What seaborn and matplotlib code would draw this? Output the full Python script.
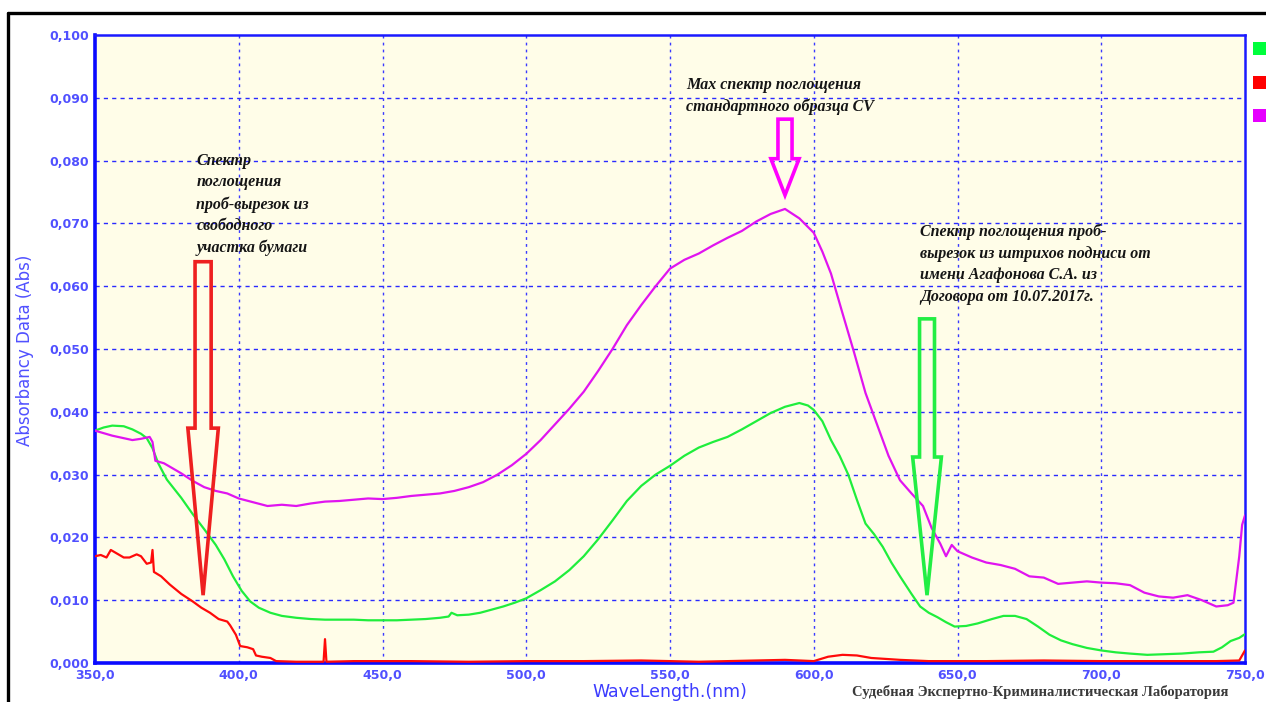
import numpy as np
import pandas as pd
import matplotlib
matplotlib.use("Agg")
import matplotlib.pyplot as plt
import seaborn as sns
from matplotlib.patches import Polygon, Rectangle
from matplotlib.lines import Line2D
from matplotlib.ticker import FuncFormatter

# ---------------- data ----------------
wl_magenta = [350, 353, 356, 360, 363, 366, 369, 370, 371, 374, 377, 380, 384, 388, 392, 396,
              400, 405, 410, 415, 420, 425, 430, 435, 440, 445, 450, 455, 460, 465, 470, 475,
              480, 485, 490, 495, 500, 505, 510, 515, 520, 525, 530, 535, 540, 545, 550, 555,
              560, 565, 570, 575, 580, 585, 590, 595, 600, 603, 606, 610, 614, 618, 622, 626,
              630, 634, 638, 641, 644, 646, 648, 650, 655, 660, 665, 670, 675, 680, 685, 690,
              695, 700, 705, 710, 715, 720, 725, 730, 735, 740, 744, 746, 748, 749, 750]
abs_magenta = [.0370, .0366, .0362, .0358, .0355, .0357, .0360, .0352, .0322, .0318, .0310, .0302,
               .0290, .0280, .0274, .0270, .0262, .0256, .0250, .0252, .0250, .0254, .0257, .0258,
               .0260, .0262, .0261, .0263, .0266, .0268, .0270, .0274, .0280, .0288, .0300, .0315,
               .0333, .0355, .0380, .0405, .0432, .0465, .0500, .0538, .0570, .0600, .0628, .0642,
               .0652, .0665, .0677, .0688, .0703, .0715, .0723, .0708, .0685, .0655, .0620, .0557,
               .0495, .0430, .0380, .0330, .0291, .0270, .0250, .0215, .0190, .0170, .0188, .0178,
               .0168, .0160, .0156, .0150, .0138, .0136, .0126, .0128, .0130, .0128, .0127, .0124,
               .0112, .0106, .0104, .0108, .0100, .0090, .0092, .0096, .0170, .0220, .0235]

wl_green = [350, 353, 356, 360, 363, 366, 368, 370, 372, 375, 380, 384, 388, 392, 395, 398, 401,
            404, 407, 411, 415, 420, 425, 430, 435, 440, 445, 450, 455, 460, 465, 470, 473, 474,
            476, 480, 484, 488, 492, 496, 500, 505, 510, 515, 520, 525, 530, 535, 540, 545, 550,
            555, 560, 565, 570, 575, 580, 585, 590, 595, 598, 600, 603, 606, 609, 612, 615, 618,
            621, 624, 627, 630, 634, 637, 640, 643, 646, 649, 653, 657, 662, 666, 670, 674, 678,
            682, 686, 690, 695, 700, 705, 710, 716, 722, 728, 734, 739, 742, 745, 748, 750]
abs_green = [.0370, .0375, .0378, .0377, .0372, .0365, .0358, .0342, .0318, .0292, .0263, .0237,
             .0213, .0188, .0165, .0138, .0115, .0098, .0088, .0080, .0075, .0072, .0070, .0069,
             .0069, .0069, .0068, .0068, .0068, .0069, .0070, .0072, .0074, .0080, .0076, .0077,
             .0080, .0085, .0090, .0096, .0103, .0116, .0130, .0148, .0170, .0197, .0227, .0258,
             .0282, .0300, .0314, .0330, .0343, .0352, .0360, .0372, .0385, .0398, .0408, .0414,
             .0410, .0403, .0385, .0355, .0330, .0300, .0260, .0222, .0205, .0185, .0160, .0138,
             .0110, .0090, .0080, .0073, .0065, .0058, .0059, .0063, .0070, .0075, .0075, .0070,
             .0058, .0045, .0036, .0030, .0024, .0020, .0017, .0015, .0013, .0014, .0015, .0017,
             .0018, .0025, .0035, .0040, .0046]

wl_red = [350, 352, 354, 355.5, 357, 360, 362, 364.5, 366, 368, 369.5, 370, 370.5, 373, 376, 380,
          384, 387, 390, 393, 396, 397, 399, 400.5, 403, 405, 406, 408, 411, 413, 420, 429.5, 430,
          430.5, 440, 460, 480, 500, 520, 540, 550, 560, 570, 580, 590, 600, 605, 610, 615, 620,
          630, 640, 660, 680, 700, 720, 740, 748, 750]
abs_red = [.0170, .0172, .0168, .0180, .0176, .0168, .0168, .0173, .0170, .0158, .0160, .0180,
           .0145, .0138, .0125, .0110, .0098, .0088, .0080, .0070, .0066, .0060, .0045, .0027,
           .0025, .0022, .0012, .0010, .0008, .0003, .0002, .0002, .0038, .0002, .0003, .0003,
           .0002, .0003, .0003, .0004, .0003, .0002, .0003, .0004, .0005, .0003, .0010, .0013,
           .0012, .0008, .0005, .0003, .0003, .0004, .0003, .0003, .0003, .0004, .0020]

series_names = ["green", "red", "magenta"]
series_colors = {"green": "#1fee3c", "red": "#ff0a0a", "magenta": "#e014f0"}
legend_colors = ["#00ff3c", "#ff0000", "#e600ff"]

x_ticks = [350, 400, 450, 500, 550, 600, 650, 700, 750]
y_ticks = [0.0, 0.01, 0.02, 0.03, 0.04, 0.05, 0.06, 0.07, 0.08, 0.09, 0.10]

label_red = "Спектр\nпоглощения\nпроб-вырезок из\nсвободного\nучастка бумаги"
label_magenta = "Max спектр поглощения\nстандартного образца CV"
label_green = "Спектр поглощения проб-\nвырезок из штрихов подниси от\nимени Агафонова С.А. из\nДоговора от 10.07.2017г."
footer = "Судебная Экспертно-Криминалистическая Лаборатория"
xlabel = "WaveLength.(nm)"
ylabel = "Absorbancy Data (Abs)"

df = pd.concat([
    pd.DataFrame({"wl": wl_green, "abs": abs_green, "s": "green"}),
    pd.DataFrame({"wl": wl_red, "abs": abs_red, "s": "red"}),
    pd.DataFrame({"wl": wl_magenta, "abs": abs_magenta, "s": "magenta"}),
], ignore_index=True)

# ---------------- figure ----------------
sns.set_style("white")
plt.rcParams["font.family"] = ["DejaVu Sans"]

fig = plt.figure(figsize=(12.66, 7.02), dpi=100)
ax = fig.add_axes([95 / 1266, 1 - 663 / 702, (1245 - 95) / 1266, (663 - 35) / 702])
ax.set_facecolor("#fffde8")

sns.lineplot(data=df, x="wl", y="abs", hue="s", palette=series_colors, hue_order=series_names,
             ax=ax, legend=False, linewidth=1.6, estimator=None, sort=False, zorder=3)

ax.set_xlim(350, 750)
ax.set_ylim(0, 0.1)
ax.set_xticks(x_ticks)
ax.set_yticks(y_ticks)
ax.xaxis.set_major_formatter(FuncFormatter(lambda v, p: f"{v:.1f}".replace(".", ",")))
ax.yaxis.set_major_formatter(FuncFormatter(lambda v, p: f"{v:.3f}".replace(".", ",")))
ax.tick_params(axis="both", length=0, pad=4, labelsize=9, labelcolor="#5050ff")
for lab in ax.get_xticklabels() + ax.get_yticklabels():
    lab.set_fontweight("bold")

ax.grid(False)
for v in x_ticks[1:-1]:
    ax.axvline(v, color="#3a3aff", lw=1.0, ls=(0, (2, 3)), zorder=1)
for v in y_ticks[1:-1]:
    ax.axhline(v, color="#2a2aff", lw=1.0, ls=(0, (3, 3)), zorder=1)

for side in ["left", "bottom"]:
    ax.spines[side].set_color("#0a0aff")
    ax.spines[side].set_linewidth(2.6)
for side in ["top", "right"]:
    ax.spines[side].set_color("#1a1aff")
    ax.spines[side].set_linewidth(1.8)

ax.set_xlabel(xlabel, fontsize=12.5, color="#3c3cff")
ax.set_ylabel(ylabel, fontsize=12, color="#5050ff")
ax.xaxis.label.set_va("center")
ax.yaxis.label.set_va("center")
ax.xaxis.set_label_coords((670 - 95) / 1150, -29 / 628)
ax.yaxis.set_label_coords(-70 / 1150, (663 - 350) / 628)

# ---------------- hollow arrows ----------------
def hollow_arrow(x_tip, y_tip, y_top, y_base, half_shaft, half_head, color):
    pts = [(x_tip - half_shaft, y_top), (x_tip + half_shaft, y_top), (x_tip + half_shaft, y_base),
           (x_tip + half_head, y_base), (x_tip, y_tip), (x_tip - half_head, y_base),
           (x_tip - half_shaft, y_base)]
    ax.add_patch(Polygon(pts, closed=True, fill=False, edgecolor=color, lw=2.6, zorder=4,
                         joinstyle="miter"))

hollow_arrow(387.6, 0.0108, 0.0639, 0.0374, 2.8, 5.3, "#ee2020")
hollow_arrow(590.0, 0.0745, 0.0866, 0.0803, 2.45, 4.9, "#ff00ff")
hollow_arrow(639.4, 0.0108, 0.0548, 0.0328, 2.6, 5.0, "#22ee44")

# ---------------- annotation texts ----------------
serif_bi = dict(family=["Liberation Serif", "DejaVu Serif"], fontstyle="italic", fontweight="bold",
                fontsize=11.5, color="#151515", linespacing=1.45, va="top", ha="left", zorder=5)
ax.text(385.3, (663 - 153) / 6280, label_red, **serif_bi)
ax.text(555.6, (663 - 77) / 6280, label_magenta, **serif_bi)
ax.text(636.9, (663 - 224) / 6280, label_green, **serif_bi)

fig.text(1040 / 1266, 1 - 692 / 702, footer, ha="center", va="center",
         family=["Liberation Serif", "DejaVu Serif"], fontweight="bold", fontsize=10.5,
         color="#3a3a3a")

# ---------------- legend squares ----------------
for i, c in enumerate(legend_colors):
    y0 = 1 - (55 + i * 33.5) / 702
    fig.add_artist(Rectangle((1253 / 1266, y0), 14 / 1266, 13 / 702, transform=fig.transFigure,
                             facecolor=c, edgecolor="none"))

# ---------------- outer black frame ----------------
fig.add_artist(Line2D([8 / 1266, 1.0], [1 - 13 / 702, 1 - 13 / 702], transform=fig.transFigure,
                      color="black", lw=2.4))
fig.add_artist(Line2D([8 / 1266, 8 / 1266], [0, 1 - 13 / 702], transform=fig.transFigure,
                      color="black", lw=2.4))

fig.savefig("out.png", dpi=100)
